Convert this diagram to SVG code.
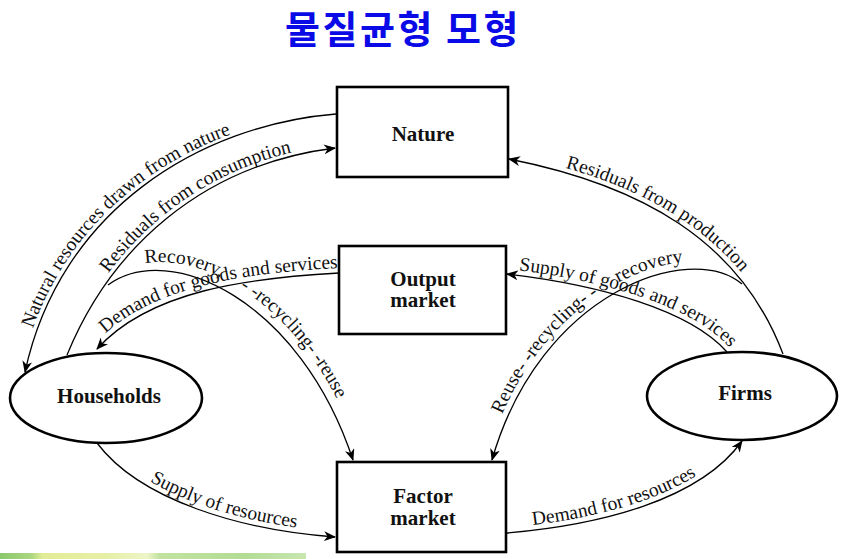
<svg xmlns="http://www.w3.org/2000/svg" xmlns:xlink="http://www.w3.org/1999/xlink" width="850" height="559" viewBox="0 0 850 559">
<style>
.box{fill:#fff;stroke:#000;stroke-width:2.6}
.node{font-family:"Liberation Serif","DejaVu Serif",serif;font-weight:bold;font-size:21px;fill:#111;text-anchor:middle}
.conn{fill:none;stroke:#000;stroke-width:1.3;marker-end:url(#arr)}
.lab{font-family:"Liberation Serif","DejaVu Serif",serif;font-size:19.5px;fill:#111;text-anchor:middle}
.lab0{font-family:"Liberation Serif","DejaVu Serif",serif;font-size:19.5px;fill:#111;text-anchor:start}
.title{font-family:"Noto Sans CJK KR","Noto Sans",sans-serif;font-weight:bold;font-size:38px;letter-spacing:2.5px;fill:#0a0ae6;text-anchor:middle}
</style>
<defs>
<marker id="arr" viewBox="0 0 12 10" refX="11" refY="5" markerWidth="12" markerHeight="10" markerUnits="userSpaceOnUse" orient="auto">
<path d="M0,0 L12,5 L0,10 L3.5,5 z" fill="#000"/>
</marker>
<radialGradient id="blob" cx="0.5" cy="0" r="0.5">
<stop offset="0" stop-color="#b8b8b8"/>
<stop offset="1" stop-color="#fff" stop-opacity="0"/>
</radialGradient>
<linearGradient id="strip" x1="0" y1="0" x2="1" y2="0">
<stop offset="0" stop-color="#8cc86c"/>
<stop offset="0.1" stop-color="#a9d67e"/>
<stop offset="0.14" stop-color="#e2ec96"/>
<stop offset="0.35" stop-color="#e6efa6"/>
<stop offset="0.48" stop-color="#eef5c8"/>
<stop offset="0.52" stop-color="#c2e3a0"/>
<stop offset="0.8" stop-color="#b2dc94"/>
<stop offset="1" stop-color="#c8e6b0"/>
</linearGradient>
<path id="t1" d="M21,370 C56,208 196,123 332,112"/>
<path id="t2" d="M64,352 C107,247 197,162 332,145"/>
<path id="t3" d="M95,344 C148,285 248,273 337,268"/>
<path id="t4" d="M112,277 C174,231 306,292 359,452"/>
<path id="t5" d="M512,155 C643,181 743,236 786,350"/>
<path id="t6" d="M509,269 C602,280 692,305 730,348"/>
<path id="t7" d="M487,457 C535,287 686,233 739,276"/>
<path id="t8" d="M99,438 C142,495 242,525 337,532"/>
<path id="t9" d="M505,528 C598,520 698,495 740,436"/>
</defs>
<rect width="850" height="559" fill="#fff"/>
<ellipse cx="493" cy="0" rx="30" ry="8" fill="url(#blob)"/>
<rect x="0" y="553" width="306" height="6" fill="url(#strip)"/>
<text class="title" x="403" y="43">물질균형 모형</text>

<g id="connectors">
<path class="conn" d="M336,114 C200,125 60,210 25,372"/>
<path class="conn" d="M67,355 C110,250 200,165 335,148"/>
<path class="conn" d="M339,273 C250,278 150,290 97,349"/>
<path class="conn" d="M108,285 C170,240 300,300 353,460"/>
<path class="conn" d="M783,354 C740,240 640,185 509,159"/>
<path class="conn" d="M727,352 C690,310 600,285 507,274"/>
<path class="conn" d="M742,284 C690,240 540,292 492,460"/>
<path class="conn" d="M97,443 C140,500 240,530 335,537"/>
<path class="conn" d="M507,533 C600,525 700,500 742,441"/>
<text class="lab"><textPath xlink:href="#t1" href="#t1" startOffset="43%">Natural resources drawn from nature</textPath></text>
<text class="lab"><textPath xlink:href="#t2" href="#t2" startOffset="57%">Residuals from consumption</textPath></text>
<text class="lab"><textPath xlink:href="#t3" href="#t3" startOffset="53%">Demand for goods and services</textPath></text>
<text class="lab0"><textPath xlink:href="#t4" href="#t4" startOffset="36">Recovery,</textPath><textPath xlink:href="#t4" href="#t4" startOffset="136">- -recycling- -reuse</textPath></text>
<text class="lab"><textPath xlink:href="#t5" href="#t5" startOffset="45%">Residuals from production</textPath></text>
<text class="lab"><textPath xlink:href="#t6" href="#t6" startOffset="52%">Supply of goods and services</textPath></text>
<text class="lab0"><textPath xlink:href="#t7" href="#t7" startOffset="45">Reuse- -recycling- -</textPath><textPath xlink:href="#t7" href="#t7" startOffset="224">recovery</textPath></text>
<text class="lab"><textPath xlink:href="#t8" href="#t8" startOffset="55%">Supply of resources</textPath></text>
<text class="lab"><textPath xlink:href="#t9" href="#t9" startOffset="44%">Demand for resources</textPath></text>
</g>

<g id="nature">
<rect class="box" x="337" y="87" width="171" height="90"/>
<text class="node" x="423" y="141">Nature</text>
</g>
<g id="output-market">
<rect class="box" x="339" y="246" width="167" height="88"/>
<text class="node" x="423" y="286">Output</text>
<text class="node" x="423" y="307">market</text>
</g>
<g id="factor-market">
<rect class="box" x="337" y="462" width="169" height="90"/>
<text class="node" x="423" y="503">Factor</text>
<text class="node" x="423" y="525">market</text>
</g>
<g id="households">
<ellipse class="box" cx="106" cy="398" rx="96" ry="45"/>
<text class="node" x="109" y="403">Households</text>
</g>
<g id="firms">
<ellipse class="box" cx="742" cy="396" rx="95" ry="44"/>
<text class="node" x="745" y="400">Firms</text>
</g>
</svg>
